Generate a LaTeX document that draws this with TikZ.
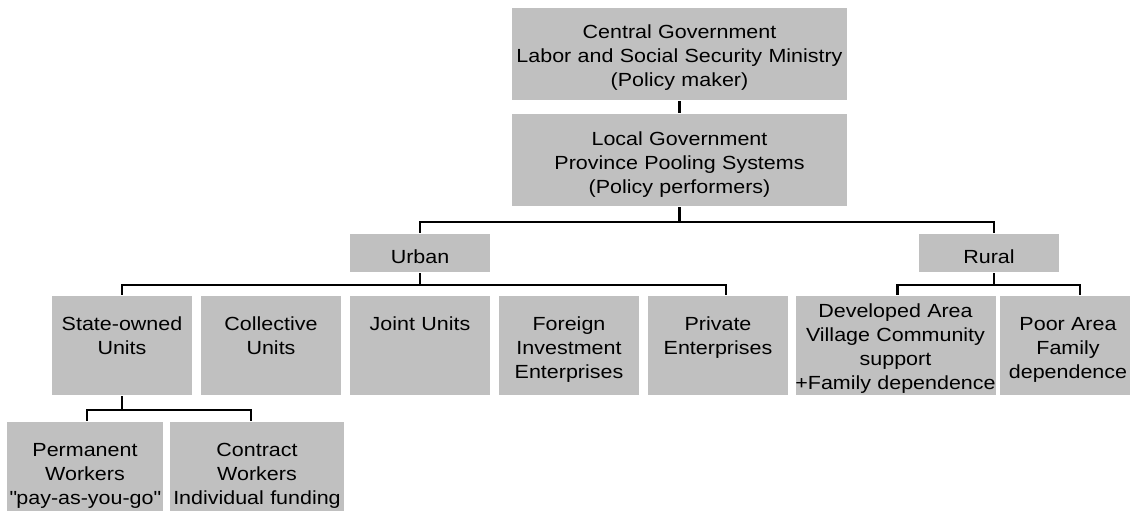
\documentclass[tikz,border=0pt]{standalone}
\usepackage{fontspec}
\setmainfont{Liberation Sans}[FakeStretch=1.13]
\definecolor{boxgray}{RGB}{192,192,192}
\begin{document}
\begin{tikzpicture}[x=1pt, y=-1pt, line width=2.8pt,
  font=\fontsize{19}{24}\selectfont,
  box/.style={fill=boxgray, inner sep=0pt, align=center},
  govbox/.style={box, text width=335pt, text height=31pt, text depth=61pt},
  areabox/.style={box, text width=140pt, text height=29pt, text depth=9pt},
  unitbox/.style={box, text width=140pt, text height=34pt, text depth=65pt}]
\clip (0,0) rectangle (1130,511);
\node[govbox] (central) at (679.5,54) {Central Government\\Labor and Social Security Ministry\\(Policy maker)};
\node[govbox] (local) at (679.5,160) {Local Government\\Province Pooling Systems\\(Policy performers)};
\node[areabox] (urban) at (420,253) {Urban};
\node[areabox] (rural) at (989,253) {Rural};
\node[unitbox] (state) at (122,345.5) {State-owned\\Units};
\node[unitbox] (coll) at (271,345.5) {Collective\\Units};
\node[unitbox] (joint) at (420,345.5) {Joint Units};
\node[unitbox] (foreign) at (569,345.5) {Foreign\\Investment\\Enterprises};
\node[unitbox] (priv) at (718,345.5) {Private\\Enterprises};
\node[unitbox, text width=210pt, inner xsep=-5pt, text height=21pt, text depth=78pt] (dev) at (895.5,345.5) {Developed Area\\Village Community\\support\\+Family dependence};
\node[unitbox, text width=136pt] (poor) at (1068,345.5) {Poor Area\\Family\\dependence};
\node[unitbox, text width=156pt] (perm) at (85,471.5) {Permanent\\Workers\\\textquotedbl pay-as-you-go\textquotedbl};
\node[unitbox, text width=174pt] (contr) at (257,471.5) {Contract\\Workers\\Individual funding};
% bus lines of the tree
\coordinate (top) at (679.5,222);
\coordinate (ubus) at (420,285);
\coordinate (rbus) at (994,285);
\coordinate (sbus) at (122,410);
\draw (central) -- (local);
\draw (local) -- (top);
\draw (urban.north) |- (top) -| ([xshift=5pt]rural.north);
\draw (urban) -- (ubus);
\draw (state.north) |- (ubus) -| ([xshift=8pt]priv.north);
\draw ([xshift=5pt]rural.south) -- (rbus);
\draw ([xshift=2pt]dev.north) |- (rbus) -| ([xshift=12pt]poor.north);
\draw (state) -- (sbus);
\draw ([xshift=2pt]perm.north) |- (sbus) -| ([xshift=-6pt]contr.north);
\end{tikzpicture}
\end{document}
